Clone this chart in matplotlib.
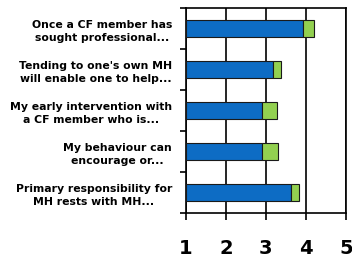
import matplotlib
matplotlib.use("Agg")
import matplotlib.pyplot as plt
import numpy as np

categories = [
    "Once a CF member has\nsought professional...",
    "Tending to one's own MH\nwill enable one to help...",
    "My early intervention with\na CF member who is...",
    "My behaviour can\nencourage or...",
    "Primary responsibility for\nMH rests with MH...",
]
blue_end = [3.92, 3.17, 2.89, 2.91, 3.62]
green_end = [4.20, 3.37, 3.27, 3.31, 3.82]
x_ticks = [1, 2, 3, 4, 5]

fig = plt.figure(figsize=(3.52, 2.62), dpi=100)
ax = fig.add_axes([0.528, 0.187, 0.455, 0.782])

y = np.arange(len(categories))
base = 1
blue_w = [b - base for b in blue_end]
green_w = [g - b for g, b in zip(green_end, blue_end)]
ax.barh(y, blue_w, left=base, height=0.4, color="#0d6cc4", edgecolor="#1a1a1a", linewidth=0.8, zorder=3)
ax.barh(y, green_w, left=blue_end, height=0.4, color="#92d050", edgecolor="#1a1a1a", linewidth=0.8, zorder=3)

ax.set_xlim(1, 5)
ax.set_ylim(len(categories) - 0.5, -0.5)
ax.set_xticks(x_ticks)
ax.set_xticklabels([str(t) for t in x_ticks], fontsize=14, fontweight="black")
ax.tick_params(axis="x", length=5, width=1.2, pad=14)
ax.xaxis.grid(True, color="black", linewidth=1.2, zorder=0)

ax.set_yticks(y)
ax.set_yticklabels(categories, fontsize=7.8, fontweight="black", linespacing=1.45)
for lab in ax.get_yticklabels():
    lab.set_multialignment("center")
ax.tick_params(axis="y", length=0, pad=10)
ax.set_yticks(np.arange(-0.5, len(categories), 1), minor=True)
ax.tick_params(axis="y", which="minor", length=4, width=1.2)

for s in ax.spines.values():
    s.set_linewidth(1.2)
    s.set_color("black")

fig.savefig("out.png", dpi=100)
